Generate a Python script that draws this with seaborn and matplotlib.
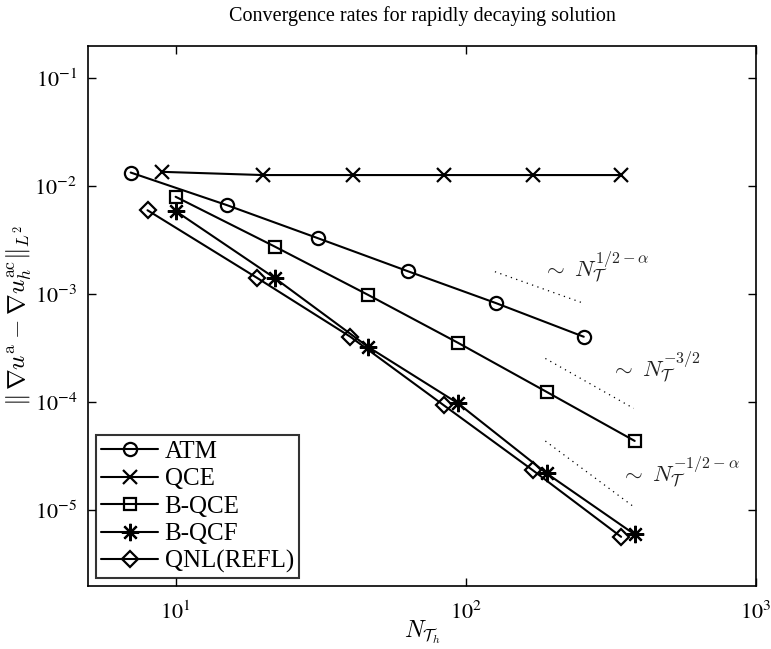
import matplotlib
matplotlib.use("Agg")
import matplotlib.pyplot as plt
import seaborn as sns
import pandas as pd
from matplotlib.ticker import FixedLocator, NullLocator, FuncFormatter

# ---- data ----
methods = ["ATM", "QCE", "B-QCE", "B-QCF", "QNL(REFL)"]
atm_n = [7, 15, 31, 63, 127, 255]
atm_err = [1.34e-2, 6.7e-3, 3.3e-3, 1.64e-3, 8.3e-4, 4.05e-4]
qce_n = [9, 20, 41, 84, 170, 343]
qce_err = [1.36e-2, 1.27e-2, 1.27e-2, 1.27e-2, 1.27e-2, 1.27e-2]
bqce_n = [10, 22, 46, 94, 190, 382]
bqce_err = [8.0e-3, 2.76e-3, 9.9e-4, 3.56e-4, 1.25e-4, 4.4e-5]
bqcf_n = [10, 22, 46, 94, 190, 382]
bqcf_err = [5.9e-3, 1.41e-3, 3.27e-4, 9.8e-5, 2.2e-5, 6.0e-6]
qnl_n = [8, 19, 40, 84, 170, 343]
qnl_err = [6.0e-3, 1.43e-3, 4.05e-4, 9.4e-5, 2.36e-5, 5.7e-6]

# reference slope segments
ref_n = [[126, 255], [188, 379], [188, 376]]
ref_err = [[1.62e-3, 8.26e-4], [2.55e-4, 8.8e-5], [4.39e-5, 1.1e-5]]
ref_labels = [r"$\sim\ N_{\mathcal{T}}^{1/2-\alpha}$",
              r"$\sim\ N_{\mathcal{T}}^{-3/2}$",
              r"$\sim\ N_{\mathcal{T}}^{-1/2-\alpha}$"]

x_ticks = [10, 100, 1000]
y_ticks = [1e-5, 1e-4, 1e-3, 1e-2, 1e-1]

title = "Convergence rates for rapidly decaying solution"

# ---- style ----
sns.set_theme(style="ticks")
plt.rcParams["font.family"] = ["Liberation Serif", "DejaVu Serif"]
plt.rcParams["mathtext.fontset"] = "stix"
plt.rcParams["text.color"] = "black"
plt.rcParams["axes.labelcolor"] = "black"

series = [(atm_n, atm_err), (qce_n, qce_err), (bqce_n, bqce_err),
          (bqcf_n, bqcf_err), (qnl_n, qnl_err)]
markers = ["o", "x", "s", (8, 2, 0), "D"]
msizes = [9.5, 9.5, 8.5, 12.5, 8]

fig = plt.figure(figsize=(7.71, 6.49), dpi=100)
ax = fig.add_axes([0.1145, 0.0971, 0.866, 0.8325])

for name, (n, e), m, ms in zip(methods, series, markers, msizes):
    df = pd.DataFrame({"N": n, "err": e})
    sns.lineplot(data=df, x="N", y="err", ax=ax, label=name, color="black",
                 marker=m, markersize=ms, markerfacecolor="none",
                 markeredgecolor="black", markeredgewidth=1.6,
                 linewidth=1.5, sort=False, legend=False)

for rn, re_ in zip(ref_n, ref_err):
    ax.plot(rn, re_, color="black", linestyle=(0, (1, 3.5)), linewidth=0.9)

label_pos = [(0.679, 0.5756), (0.781, 0.3905), (0.797, 0.196)]
for (tx, ty), lab in zip(label_pos, ref_labels):
    ax.text(tx, ty, lab, transform=ax.transAxes, fontsize=16.5,
            va="baseline", ha="left", color="#222222", math_fontfamily="cm")

ax.set_xscale("log")
ax.set_yscale("log")
ax.set_xlim(5, 1000)
ax.set_ylim(2e-6, 0.2)

def pow_fmt(v, pos):
    import math
    return r"$10^{%d}$" % int(round(math.log10(v)))

ax.xaxis.set_major_locator(FixedLocator(x_ticks))
ax.yaxis.set_major_locator(FixedLocator(y_ticks))
ax.xaxis.set_minor_locator(NullLocator())
ax.yaxis.set_minor_locator(NullLocator())
ax.xaxis.set_major_formatter(FuncFormatter(pow_fmt))
ax.yaxis.set_major_formatter(FuncFormatter(pow_fmt))
ax.tick_params(axis="both", which="major", direction="in", length=6,
               width=1, top=True, right=True, labelsize=16, pad=8,
               colors="black")
ax.tick_params(axis="x", pad=11)
for sp in ax.spines.values():
    sp.set_linewidth(1.2)
    sp.set_color("black")

ax.set_xlabel(r"$N_{\mathcal{T}_h}$", fontsize=17, math_fontfamily="cm",
              labelpad=-4)
ax.set_ylabel(r"$\|\,\nabla u^{\rm a} - \nabla u_h^{\rm ac}\|_{L^2}$",
              fontsize=18, math_fontfamily="cm", labelpad=0)
ax.set_title(title, fontsize=14.5, pad=18, color="black")

leg = ax.legend(loc="lower left", fontsize=18, frameon=True, fancybox=False,
                edgecolor="black", borderaxespad=0.3, handlelength=2.3,
                labelspacing=0.2, borderpad=0.2, handletextpad=0.25)
leg.get_frame().set_linewidth(1.5)
for t in leg.get_texts():
    t.set_color("black")

fig.savefig("out.png", dpi=100)
